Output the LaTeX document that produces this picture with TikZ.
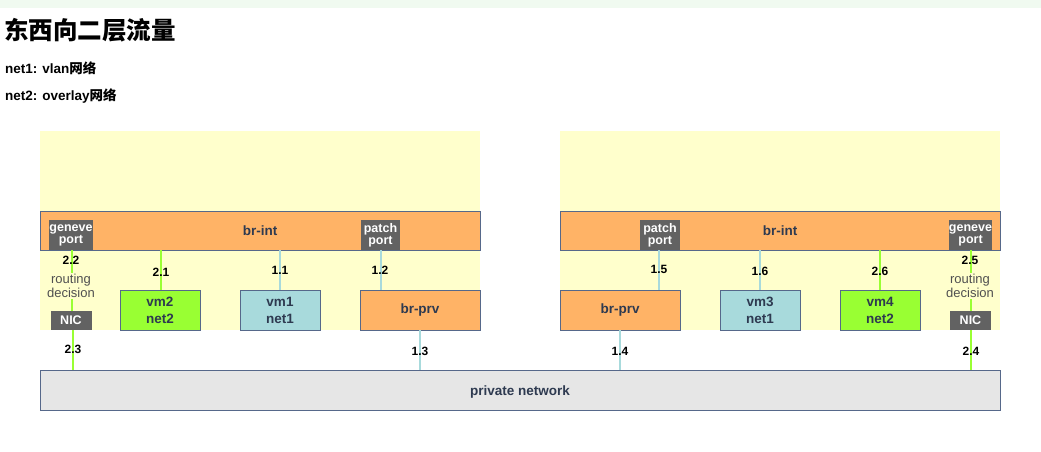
\documentclass[tikz,border=0pt]{standalone}
\usepackage{fontspec}
\setmainfont{Liberation Sans}
\newfontfamily\cjk{Noto Sans CJK SC}
\definecolor{topgreen}{HTML}{F0FAF0}
\definecolor{hostbg}{HTML}{FFFFCC}
\definecolor{orng}{HTML}{FFB366}
\definecolor{edge}{HTML}{56688A}
\definecolor{portgray}{HTML}{626262}
\definecolor{vmgreen}{HTML}{99FF33}
\definecolor{vmblue}{HTML}{A8DADC}
\definecolor{netgray}{HTML}{E6E6E6}
\definecolor{txt}{HTML}{2E3A50}
\definecolor{rdgray}{HTML}{505050}
\tikzset{
  host/.style={fill=hostbg, draw=none, minimum width=440pt, minimum height=199pt, inner sep=0pt},
  bridge/.style={fill=orng, draw=edge, line width=0.8pt, text=txt, font=\bfseries\fontsize{13.5}{15}\selectfont, inner sep=0pt},
  port/.style={fill=portgray, draw=none, text=white, font=\bfseries\fontsize{12.5}{12}\selectfont, align=center, inner sep=0pt, minimum width=41pt},
  vmg/.style={fill=vmgreen, draw=edge, line width=0.8pt, text=txt, font=\bfseries\fontsize{13.5}{17}\selectfont, align=center, minimum width=80pt, minimum height=40pt, inner sep=0pt},
  vmb/.style={vmg, fill=vmblue},
  gline/.style={draw=vmgreen, line width=2pt},
  bline/.style={draw=vmblue, line width=2pt},
  num/.style={font=\bfseries\fontsize{12}{12}\selectfont, text=black, inner sep=0pt},
  rdec/.style={fill=hostbg, text=rdgray, font=\fontsize{13}{14}\selectfont, align=center, inner sep=1pt},
}
\begin{document}
\begin{tikzpicture}[x=1pt, y=-1pt]
\useasboundingbox (0,0) rectangle (1041,451);
\fill[white] (0,0) rectangle (1041,451);
\fill[topgreen] (0,0) rectangle (1041,8);
% header texts
\node[anchor=west, inner sep=0pt] (title) at (4,30) {\cjk\bfseries\fontsize{24.5}{27}\selectfont 东西向二层流量};
\node[anchor=west, inner sep=0pt] (n1) at (5,68) {\bfseries\fontsize{13.5}{15}\selectfont net1: vlan{\cjk 网络}};
\node[anchor=west, inner sep=0pt] (n2) at (5,96) {\bfseries\fontsize{13.5}{15}\selectfont net2: overlay{\cjk 网络}};
% hosts
\node[host] (h1) at (260,230.5) {};
\node[host] (h2) at (780,230.5) {};
% private network
\node[fill=netgray, draw=edge, line width=0.8pt, minimum width=960pt, minimum height=40pt, inner sep=0pt] (pn) at (520,390) {};
\node[text=txt, font=\bfseries\fontsize{13.5}{15}\selectfont, inner sep=0pt] (pnlabel) at ([yshift=-2pt]pn.center) {private network};
% left host
\node[bridge, minimum width=440pt, minimum height=39pt] (bi1) at (260,230.5) {br-int};
\node[port, minimum height=30pt] (gp1) at (71,235) {geneve\\port};
\node[port, minimum height=30pt, minimum width=39pt] (pp1) at (380.5,235) {patch\\port};
\node[port, minimum height=19pt] (nic1) at (71,320.5) {NIC};
\node[vmg] (vm2) at (160,310) {vm2\\net2};
\node[vmb] (vm1) at (280,310) {vm1\\net1};
\node[bridge, minimum width=120pt, minimum height=40pt] (bp1) at (420,310) {br-prv};
% right host
\node[bridge, minimum width=440pt, minimum height=39pt] (bi2) at (780,230.5) {br-int};
\node[port, minimum height=30pt, minimum width=40pt] (pp2) at (660,235) {patch\\port};
\node[port, minimum height=30pt] (gp2) at (970.5,235) {geneve\\port};
\node[port, minimum height=19pt] (nic2) at (970.5,320.5) {NIC};
\node[bridge, minimum width=120pt, minimum height=40pt] (bp2) at (620,310) {br-prv};
\node[vmb] (vm3) at (760,310) {vm3\\net1};
\node[vmg] (vm4) at (880,310) {vm4\\net2};
% connectors left
\draw[gline] ([xshift=1pt]gp1.south) -- ([xshift=1pt]nic1.north);
\draw[gline] ([xshift=2pt]nic1.south) -- ([xshift=2pt]nic1.south |- pn.north);
\draw[gline] ([xshift=1pt]vm2.north) -- ([xshift=1pt]vm2.north |- bi1.south);
\draw[bline] (vm1.north) -- (vm1.north |- bi1.south);
\draw[bline] (pp1.south) -- (pp1.south |- bp1.north);
\draw[bline] (bp1.south) -- (bp1.south |- pn.north);
% connectors right
\draw[bline] ([xshift=-1pt]pp2.south) -- ([xshift=-1pt]pp2.south |- bp2.north);
\draw[bline] (bp2.south) -- (bp2.south |- pn.north);
\draw[bline] (vm3.north) -- (vm3.north |- bi2.south);
\draw[gline] (vm4.north) -- (vm4.north |- bi2.south);
\draw[gline] (gp2.south) -- (nic2.north);
\draw[gline] (nic2.south) -- (nic2.south |- pn.north);
% labels left
\node[num] (l22) at (71,260) {2.2};
\node[rdec] (rd1) at (71,286) {routing\\decision};
\node[num] (l23) at (73,349) {2.3};
\node[num] (l21) at (161,272) {2.1};
\node[num] (l11) at (280,270) {1.1};
\node[num] (l12) at (380,270) {1.2};
\node[num] (l13) at (420,351) {1.3};
% labels right
\node[num] (l15) at (659,269) {1.5};
\node[num] (l16) at (760,271) {1.6};
\node[num] (l26) at (880,271) {2.6};
\node[num] (l25) at (970,260) {2.5};
\node[rdec] (rd2) at (970,286) {routing\\decision};
\node[num] (l14) at (620,351) {1.4};
\node[num] (l24) at (971,351) {2.4};
\end{tikzpicture}
\end{document}
